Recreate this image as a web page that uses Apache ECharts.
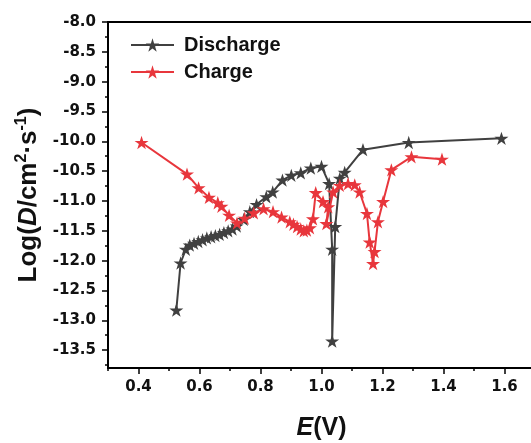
<!DOCTYPE html>
<html>
<head>
<meta charset="utf-8">
<script src="https://cdn.jsdelivr.net/npm/echarts@6/dist/echarts.min.js"></script>
<style>html,body{margin:0;padding:0;background:#fff}#c{width:531px;height:443px}</style>
</head>
<body>
<div id="c"></div>
<script>
// ---- data ----
var dischargeE = [0.524,0.538,0.555,0.568,0.582,0.596,0.61,0.624,0.638,0.652,0.666,0.68,0.694,0.708,0.722,0.745,0.765,0.787,0.819,0.84,0.872,0.901,0.932,0.965,1.0,1.025,1.035,1.035,1.045,1.06,1.076,1.136,1.286,1.59];
var dischargeLogD = [-12.83,-12.04,-11.81,-11.74,-11.71,-11.68,-11.65,-11.62,-11.60,-11.58,-11.56,-11.53,-11.50,-11.47,-11.42,-11.31,-11.18,-11.06,-10.93,-10.85,-10.65,-10.57,-10.53,-10.45,-10.42,-10.71,-11.81,-13.35,-11.43,-10.62,-10.52,-10.14,-10.02,-9.95];
var chargeE = [0.41,0.559,0.597,0.631,0.66,0.672,0.697,0.723,0.748,0.778,0.81,0.841,0.869,0.896,0.908,0.92,0.932,0.942,0.952,0.962,0.972,0.981,1.005,1.022,1.016,1.038,1.06,1.087,1.109,1.125,1.149,1.158,1.169,1.174,1.185,1.202,1.229,1.295,1.395];
var chargeLogD = [-10.02,-10.55,-10.78,-10.94,-11.03,-11.09,-11.24,-11.37,-11.29,-11.2,-11.13,-11.18,-11.27,-11.35,-11.39,-11.43,-11.47,-11.5,-11.49,-11.45,-11.3,-10.86,-11.01,-11.1,-11.38,-10.85,-10.74,-10.71,-10.73,-10.85,-11.21,-11.69,-12.05,-11.85,-11.35,-11.01,-10.48,-10.26,-10.3];
var seriesNames = ['Discharge', 'Charge'];
var xMajorTicks = [0.4, 0.6, 0.8, 1.0, 1.2, 1.4, 1.6];
var xMinorTicks = [0.3, 0.5, 0.7, 0.9, 1.1, 1.3, 1.5, 1.7];
var yMajorTicks = [-13.5, -13.0, -12.5, -12.0, -11.5, -11.0, -10.5, -10.0, -9.5, -9.0, -8.5, -8.0];
var yMinorTicks = [-13.75, -13.25, -12.75, -12.25, -11.75, -11.25, -10.75, -10.25, -9.75, -9.25, -8.75, -8.25];
var xMin = 0.3, xMax = 1.7, yMin = -13.8, yMax = -8.0;

function pairs(a, b) { return a.map(function (v, i) { return [v, b[i]]; }); }

var star = 'path://M100,0 L122.5,69.1 L195.1,69.1 L136.3,111.8 L158.8,180.9 L100,138.2 L41.2,180.9 L63.7,111.8 L4.9,69.1 L77.5,69.1 Z';
var tickFont = { fontFamily: 'DejaVu Sans', fontWeight: 'bold', fontSize: 15, color: '#111' };

var chart = echarts.init(document.getElementById('c'), null, { renderer: 'canvas' });
chart.setOption({
  animation: false,
  backgroundColor: '#fff',
  grid: { left: 108, top: 22, width: 427, height: 346, show: true, borderColor: '#000', borderWidth: 2, containLabel: false, outerBoundsMode: 'none' },
  legend: {
    orient: 'vertical', left: 130, top: 35, padding: 0, itemWidth: 43, itemHeight: 17, itemGap: 7,
    textStyle: { fontFamily: 'Liberation Sans', fontWeight: 'bold', fontSize: 20, color: '#111', lineHeight: 20, padding: [0, 0, 0, 5] },
    data: seriesNames
  },
  xAxis: [
    { type: 'value', min: xMin, max: xMax, position: 'bottom',
      axisLine: { show: true, lineStyle: { color: '#000', width: 2 } },
      axisTick: { show: true, length: 3, customValues: xMinorTicks, lineStyle: { color: '#000', width: 1.5 } },
      axisLabel: { show: false }, splitLine: { show: false } },
    { type: 'value', min: xMin, max: xMax, position: 'bottom',
      axisLine: { show: false },
      axisTick: { show: true, length: 6, customValues: xMajorTicks, lineStyle: { color: '#000', width: 1.5 } },
      axisLabel: Object.assign({ margin: 12, customValues: xMajorTicks, formatter: function (v) { return v.toFixed(1); } }, tickFont),
      splitLine: { show: false },
      name: '{i|E}{a|(V)}', nameLocation: 'middle', nameGap: 48,
      nameTextStyle: { rich: {
        i: { fontFamily: 'Liberation Sans', fontWeight: 'bold', fontStyle: 'italic', fontSize: 25, color: '#111' },
        a: { fontFamily: 'Liberation Sans', fontWeight: 'bold', fontSize: 25, color: '#111' } } } }
  ],
  yAxis: [
    { type: 'value', min: yMin, max: yMax, position: 'left',
      axisLine: { show: true, lineStyle: { color: '#000', width: 2 } },
      axisTick: { show: true, length: 3, customValues: yMinorTicks, lineStyle: { color: '#000', width: 1.5 } },
      axisLabel: { show: false }, splitLine: { show: false } },
    { type: 'value', min: yMin, max: yMax, position: 'left',
      axisLine: { show: false },
      axisTick: { show: true, length: 6, customValues: yMajorTicks, lineStyle: { color: '#000', width: 1.5 } },
      axisLabel: Object.assign({ margin: 12, customValues: yMajorTicks, formatter: function (v) { return v.toFixed(1); } }, tickFont),
      splitLine: { show: false },
      name: '{a|Log(}{i|D}{a|/cm}{s|2}{a|·s}{s|-1}{a|)}', nameLocation: 'middle', nameGap: 63, nameRotate: 90,
      nameTextStyle: { rich: {
        a: { fontFamily: 'Liberation Sans', fontWeight: 'bold', fontSize: 26, color: '#111', lineHeight: 30 },
        i: { fontFamily: 'Liberation Sans', fontWeight: 'bold', fontStyle: 'italic', fontSize: 26, color: '#111', lineHeight: 30 },
        s: { fontFamily: 'Liberation Sans', fontWeight: 'bold', fontSize: 16, color: '#111', lineHeight: 30, verticalAlign: 'top', padding: [0, 0, 10, 0] } } } }
  ],
  series: [
    { name: seriesNames[0], type: 'line', xAxisIndex: 0, yAxisIndex: 0, data: pairs(dischargeE, dischargeLogD),
      symbol: star, symbolSize: 14, symbolKeepAspect: true, showAllSymbol: true,
      itemStyle: { color: '#404040' }, lineStyle: { color: '#404040', width: 2 } },
    { name: seriesNames[1], type: 'line', xAxisIndex: 0, yAxisIndex: 0, data: pairs(chargeE, chargeLogD),
      symbol: star, symbolSize: 14, symbolKeepAspect: true, showAllSymbol: true,
      itemStyle: { color: '#e8363c' }, lineStyle: { color: '#e8363c', width: 2 } }
  ]
});
</script>
</body>
</html>
